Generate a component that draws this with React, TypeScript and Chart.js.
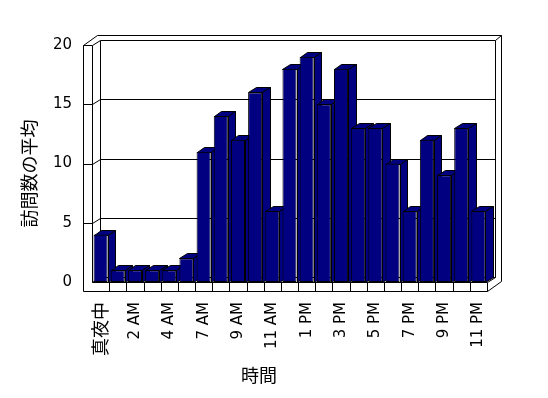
import React, { useEffect, useRef } from 'react';
import { Chart, registerables } from 'chart.js';

Chart.register(...registerables);

// ---- data ----
const hourLabels = ['真夜中', '1 AM', '2 AM', '3 AM', '4 AM', '6 AM', '7 AM', '8 AM', '9 AM', '10 AM', '11 AM', '正午', '1 PM', '2 PM', '3 PM', '4 PM', '5 PM', '6 PM', '7 PM', '8 PM', '9 PM', '10 PM', '11 PM'];
const avgVisits = [4, 1, 1, 1, 1, 2, 11, 14, 12, 16, 6, 18, 19, 15, 18, 13, 13, 10, 6, 12, 9, 13, 6];
const yGridValues = [5, 10, 15];
const yTitle = '訪問数の平均';
const xTitle = '時間';

// ---- style ----
const W = 548;
const H = 398;
const AREA_LEFT = 92;
const AREA_RIGHT = 487;
const AREA_TOP = 45;
const AREA_BOTTOM = 282;
const DX = 7.5;
const DY = -5;
const OX = 13.5;
const OY = -10.5;
const SLAB = 9;
const BAR = '#000080';
const FONT_LATIN = '"DejaVu Sans", "Noto Sans CJK JP", sans-serif';
const FONT_CJK = '"Noto Sans CJK JP", sans-serif';

const px = (v: number) => Math.round(v) + 0.5;
const hasCJK = (s: string) => /[\u3000-\u9fff]/.test(s);

const box3d = {
  id: 'box3d',
  beforeDatasetsDraw(chart: any) {
    const { ctx, chartArea: a, scales } = chart;
    const xs = scales.x;
    const ys = scales.y;
    const L = a.left, R = a.right, T = a.top, B = a.bottom;
    const poly = (pts: number[][], close = false, fill?: string) => {
      ctx.beginPath();
      ctx.moveTo(px(pts[0][0]), px(pts[0][1]));
      for (let i = 1; i < pts.length; i++) ctx.lineTo(px(pts[i][0]), px(pts[i][1]));
      if (close) ctx.closePath();
      if (fill) { ctx.fillStyle = fill; ctx.fill(); }
      ctx.stroke();
    };
    ctx.save();
    ctx.strokeStyle = '#000';
    ctx.lineWidth = 1;
    // outer silhouette
    poly([[L - SLAB, B + SLAB], [L - SLAB, T], [L - SLAB + OX, T + OY], [R + OX, T + OY], [R + OX, B + SLAB + OY], [R, B + SLAB]], true, '#fff');
    // back wall inner face
    poly([[L + DX, B + DY], [L + DX, T + DY], [R + DX, T + DY], [R + DX, B + DY]], true);
    // left wall
    poly([[L, B], [L, T], [L + DX, T + DY]]);
    poly([[L - SLAB, T], [L, T]]);
    poly([[R + DX, T + DY], [R + OX, T + OY]]);
    // floor
    poly([[L, B], [R, B], [R, B + SLAB]]);
    poly([[R, B], [R + DX, B + DY]]);
    poly([[L, B], [L + DX, B + DY]]);
    const n = hourLabels.length;
    const cw = n > 1 ? xs.getPixelForValue(1) - xs.getPixelForValue(0) : R - L;
    for (let i = 1; i < n; i++) {
      const xx = xs.getPixelForValue(i) - cw / 2;
      poly([[xx, B], [xx, B + SLAB]]);
    }
    // gridlines
    yGridValues.forEach((v) => {
      const yy = ys.getPixelForValue(v);
      poly([[L - SLAB, yy], [L, yy], [L + DX, yy + DY], [R + DX, yy + DY]]);
    });
    // bar tops and sides
    const meta = chart.getDatasetMeta(0);
    meta.data.forEach((el: any) => {
      const { x, y, base, width } = el.getProps(['x', 'y', 'base', 'width'], true);
      const l = x - width / 2;
      const r = x + width / 2;
      poly([[l, y], [l + DX, y + DY], [r + DX, y + DY], [r, y]], true, BAR);
      poly([[r, y], [r + DX, y + DY], [r + DX, base + DY], [r, base]], true, BAR);
    });
    ctx.restore();
  },
  afterDraw(chart: any) {
    const { ctx } = chart;
    ctx.save();
    ctx.fillStyle = '#000';
    ctx.font = `18px ${FONT_CJK}`;
    ctx.textAlign = 'center';
    ctx.textBaseline = 'middle';
    ctx.fillText(xTitle, 259, 375);
    ctx.translate(29, 173.5);
    ctx.rotate(-Math.PI / 2);
    ctx.fillText(yTitle, 0, 0);
    ctx.restore();
  },
};

export default function App() {
  const ref = useRef<HTMLCanvasElement>(null);
  useEffect(() => {
    if (!ref.current) return;
    const chart = new Chart(ref.current, {
      type: 'bar',
      data: {
        labels: hourLabels,
        datasets: [
          {
            label: yTitle,
            data: avgVisits,
            backgroundColor: BAR,
            borderColor: '#000',
            borderWidth: 1,
            borderSkipped: false,
            categoryPercentage: 1,
            barPercentage: 0.82,
          },
        ],
      },
      options: {
        responsive: false,
        animation: false,
        devicePixelRatio: 1,
        layout: { padding: { left: 0, right: W - AREA_RIGHT, top: AREA_TOP, bottom: 0 } },
        plugins: { legend: { display: false }, tooltip: { enabled: false } },
        scales: {
          x: {
            grid: { display: false, drawTicks: false },
            border: { display: false },
            ticks: {
              autoSkip: false,
              minRotation: 90,
              maxRotation: 90,
              padding: 20,
              color: '#000',
              font: (c: any) =>
                hasCJK(hourLabels[c.index] || '')
                  ? { size: 18, family: FONT_CJK }
                  : { size: 15, family: FONT_LATIN },
              callback: (_v: any, i: number) => (i % 2 === 0 ? hourLabels[i] : ''),
            },
            afterFit: (s: any) => { s.height = H - AREA_BOTTOM; },
          },
          y: {
            min: 0,
            max: 20,
            grid: { display: false, drawTicks: false },
            border: { display: false },
            ticks: {
              stepSize: 5,
              padding: 20,
              color: '#000',
              font: { size: 15, family: FONT_LATIN },
            },
            afterFit: (s: any) => { s.width = AREA_LEFT; },
          },
        },
      },
      plugins: [box3d],
    });
    return () => chart.destroy();
  }, []);
  return (
    <div style={{ position: 'fixed', left: 0, top: 0, width: W, height: H, background: '#fff' }}>
      <canvas ref={ref} width={W} height={H} style={{ display: 'block' }} />
    </div>
  );
}
